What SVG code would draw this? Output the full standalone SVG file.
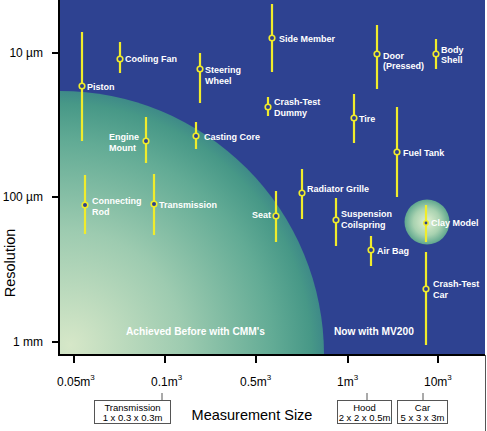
<svg xmlns="http://www.w3.org/2000/svg" width="487" height="431" viewBox="0 0 487 431">
<defs>
<style>
.lab{font-family:"Liberation Sans",Arial,sans-serif;font-weight:bold;font-size:9px;fill:#ffffff}
.big{font-family:"Liberation Sans",Arial,sans-serif;font-weight:bold;font-size:10.2px;fill:#ffffff}
.ax{font-family:"Liberation Sans",Arial,sans-serif;font-size:12px;fill:#000000}
.sup{font-size:8px}
.tit{font-family:"Liberation Sans",Arial,sans-serif;font-size:14.5px;fill:#000000}
.box{fill:#ffffff;stroke:#555555;stroke-width:1}
.bt{font-family:"Liberation Sans",Arial,sans-serif;font-size:9.5px;fill:#000000;text-anchor:middle}
.bar{stroke:#f0ec2c;stroke-width:2.2;fill:none}
.dot{fill:#2e3f8c;stroke:#f0ec2c;stroke-width:1.6}
.tick{stroke:#000000;stroke-width:2}
.thin{stroke:#555555;stroke-width:1}
</style>
<radialGradient id="gBig" gradientUnits="userSpaceOnUse" cx="60" cy="355" r="264" fx="70" fy="345">
<stop offset="0" stop-color="#d6e7c8"/>
<stop offset="0.45" stop-color="#9dcbb0"/>
<stop offset="0.8" stop-color="#62ab95"/>
<stop offset="0.95" stop-color="#479887"/>
<stop offset="1" stop-color="#3e8a88"/>
</radialGradient>
<radialGradient id="gSmall" cx="0.5" cy="0.5" r="0.5">
<stop offset="0" stop-color="#e2f0d2"/>
<stop offset="0.6" stop-color="#a8d2b0"/>
<stop offset="1" stop-color="#5fa78e"/>
</radialGradient>
<clipPath id="plot"><rect x="59" y="0" width="426" height="355"/></clipPath>
</defs>

<rect x="0" y="0" width="487" height="431" fill="#ffffff"/>

<g id="plot-area">
<rect x="59" y="0" width="426" height="355" fill="#2e4291"/>
<circle cx="60" cy="355" r="264" fill="url(#gBig)" clip-path="url(#plot)"/>
<circle cx="427" cy="222" r="22.5" fill="url(#gSmall)"/>
<text class="big" x="126" y="335">Achieved Before with CMM's</text>
<text class="big" x="334" y="335">Now with MV200</text>
</g>

<g id="axes">
<line x1="59" y1="0" x2="59" y2="356" class="tick"/>
<line x1="58" y1="355" x2="485" y2="355" class="tick"/>
<line x1="485.5" y1="355" x2="485.5" y2="431" class="thin"/>
<line x1="52" y1="53" x2="59" y2="53" class="tick"/>
<line x1="52" y1="197" x2="59" y2="197" class="tick"/>
<line x1="52" y1="342" x2="59" y2="342" class="tick"/>
<text class="ax" x="43" y="57" text-anchor="end">10 µm</text>
<text class="ax" x="43" y="201" text-anchor="end">100 µm</text>
<text class="ax" x="43" y="346" text-anchor="end">1 mm</text>
<text class="tit" transform="translate(15,263) rotate(-90)" text-anchor="middle">Resolution</text>
<line x1="74" y1="356" x2="74" y2="363" class="tick"/>
<line x1="165" y1="356" x2="165" y2="363" class="tick"/>
<line x1="256" y1="356" x2="256" y2="363" class="tick"/>
<line x1="348" y1="356" x2="348" y2="363" class="tick"/>
<line x1="438" y1="356" x2="438" y2="363" class="tick"/>
<text class="ax" x="57" y="386">0.05m<tspan class="sup" dy="-6">3</tspan></text>
<text class="ax" x="151" y="386">0.1m<tspan class="sup" dy="-6">3</tspan></text>
<text class="ax" x="240" y="386">0.5m<tspan class="sup" dy="-6">3</tspan></text>
<text class="ax" x="337" y="386">1m<tspan class="sup" dy="-6">3</tspan></text>
<text class="ax" x="424" y="386">10m<tspan class="sup" dy="-6">3</tspan></text>
<text class="tit" x="252" y="420" text-anchor="middle">Measurement Size</text>
</g>

<g id="size-boxes">
<line x1="162" y1="393" x2="162" y2="400" class="thin"/>
<rect class="box" x="94.5" y="400.5" width="76" height="23"/>
<text class="bt" x="132.5" y="411">Transmission</text>
<text class="bt" x="132.5" y="420.5">1 x 0.3 x 0.3m</text>
<line x1="367" y1="393" x2="367" y2="400" class="thin"/>
<rect class="box" x="337.5" y="400.5" width="54" height="23"/>
<text class="bt" x="364.5" y="411">Hood</text>
<text class="bt" x="364.5" y="420.5">2 x 2 x 0.5m</text>
<line x1="423" y1="393" x2="423" y2="400" class="thin"/>
<rect class="box" x="397.5" y="400.5" width="50" height="23"/>
<text class="bt" x="422.5" y="411">Car</text>
<text class="bt" x="422.5" y="420.5">5 x 3 x 3m</text>
</g>

<g id="connectors">
<line class="bar" x1="82" y1="32" x2="82" y2="141"/>
<line class="bar" x1="120" y1="42" x2="120" y2="73"/>
<line class="bar" x1="200" y1="53" x2="200" y2="103"/>
<line class="bar" x1="272" y1="4" x2="272" y2="72"/>
<line class="bar" x1="377" y1="25" x2="377" y2="89"/>
<line class="bar" x1="436" y1="39" x2="436" y2="69"/>
<line class="bar" x1="268" y1="97" x2="268" y2="116"/>
<line class="bar" x1="354" y1="94" x2="354" y2="143"/>
<line class="bar" x1="397" y1="107" x2="397" y2="197"/>
<line class="bar" x1="146" y1="117" x2="146" y2="163"/>
<line class="bar" x1="196" y1="122" x2="196" y2="149"/>
<line class="bar" x1="85" y1="175" x2="85" y2="234"/>
<line class="bar" x1="154" y1="174" x2="154" y2="235"/>
<line class="bar" x1="276" y1="191" x2="276" y2="242"/>
<line class="bar" x1="302" y1="169" x2="302" y2="219"/>
<line class="bar" x1="336" y1="198" x2="336" y2="246"/>
<line class="bar" x1="371" y1="236" x2="371" y2="266"/>
<line class="bar" x1="426" y1="205" x2="426" y2="242"/>
<line class="bar" x1="426" y1="252" x2="426" y2="345"/>
</g>

<g id="piston"><circle class="dot" cx="82" cy="86" r="2.8"/><text class="lab" x="87" y="90">Piston</text></g>
<g id="cooling-fan"><circle class="dot" cx="120" cy="59" r="2.8"/><text class="lab" x="125" y="62">Cooling Fan</text></g>
<g id="steering-wheel"><circle class="dot" cx="200" cy="69" r="2.8"/><text class="lab" x="205" y="73">Steering</text><text class="lab" x="205" y="84">Wheel</text></g>
<g id="side-member"><circle class="dot" cx="272" cy="38" r="2.8"/><text class="lab" x="279" y="42">Side Member</text></g>
<g id="door"><circle class="dot" cx="377" cy="54" r="2.8"/><text class="lab" x="383" y="59">Door</text><text class="lab" x="383" y="69">(Pressed)</text></g>
<g id="body-shell"><circle class="dot" cx="436" cy="54" r="2.8"/><text class="lab" x="441" y="53">Body</text><text class="lab" x="441" y="63">Shell</text></g>
<g id="crash-test-dummy"><circle class="dot" cx="268" cy="107" r="2.8"/><text class="lab" x="274" y="105">Crash-Test</text><text class="lab" x="274" y="116">Dummy</text></g>
<g id="tire"><circle class="dot" cx="354" cy="118" r="2.8"/><text class="lab" x="359" y="122">Tire</text></g>
<g id="fuel-tank"><circle class="dot" cx="397" cy="152" r="2.8"/><text class="lab" x="403" y="156">Fuel Tank</text></g>
<g id="engine-mount"><circle class="dot" cx="146" cy="141" r="2.8"/><text class="lab" x="109" y="140">Engine</text><text class="lab" x="109" y="151">Mount</text></g>
<g id="casting-core"><circle class="dot" cx="196" cy="136" r="2.8"/><text class="lab" x="204" y="140">Casting Core</text></g>
<g id="connecting-rod"><circle class="dot" cx="85" cy="205" r="2.8"/><text class="lab" x="92" y="204">Connecting</text><text class="lab" x="92" y="215">Rod</text></g>
<g id="transmission"><circle class="dot" cx="154" cy="204" r="2.8"/><text class="lab" x="159" y="208">Transmission</text></g>
<g id="seat"><circle class="dot" cx="276" cy="216" r="2.8"/><text class="lab" x="271" y="218" text-anchor="end">Seat</text></g>
<g id="radiator-grille"><circle class="dot" cx="302" cy="193" r="2.8"/><text class="lab" x="307" y="192">Radiator Grille</text></g>
<g id="suspension-coilspring"><circle class="dot" cx="336" cy="220" r="2.8"/><text class="lab" x="341" y="217">Suspension</text><text class="lab" x="341" y="228">Coilspring</text></g>
<g id="air-bag"><circle class="dot" cx="371" cy="250" r="2.8"/><text class="lab" x="377" y="254">Air Bag</text></g>
<g id="clay-model"><circle class="dot" cx="426" cy="223" r="2.2"/><text class="lab" x="431" y="226">Clay Model</text></g>
<g id="crash-test-car"><circle class="dot" cx="426" cy="289" r="2.8"/><text class="lab" x="433" y="287">Crash-Test</text><text class="lab" x="433" y="298">Car</text></g>
</svg>
